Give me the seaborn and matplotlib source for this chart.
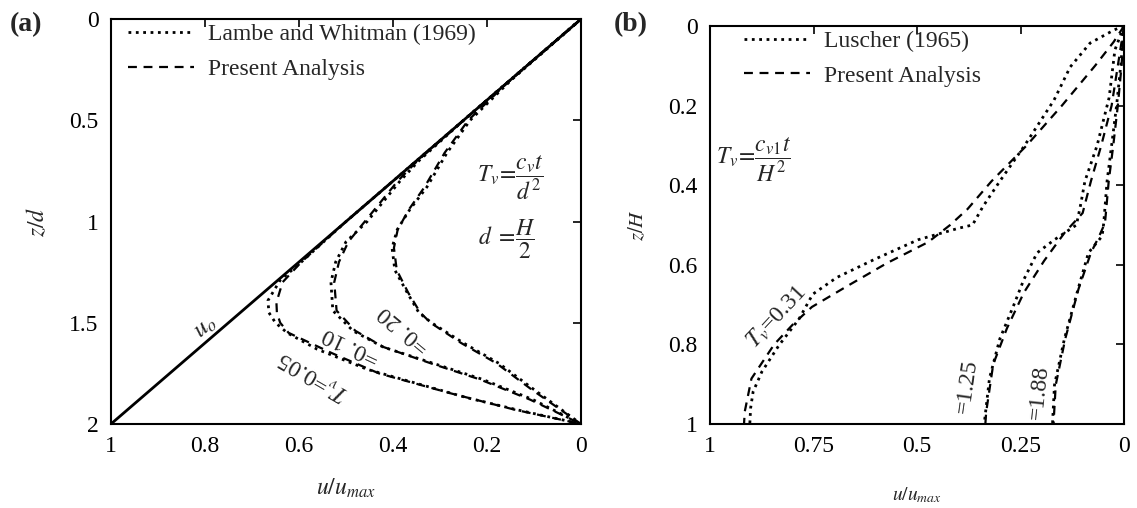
import numpy as np
import pandas as pd
import matplotlib
matplotlib.use("Agg")
import matplotlib.pyplot as plt
import seaborn as sns

# ---------------- data: panel (a) ----------------
u0_z = [0.0, 2.0]
u0_u = [0.0, 1.0]

lw005_z = [0, 0.5, 1.0, 1.2, 1.29, 1.39, 1.45, 1.5, 1.55, 1.63, 1.73, 1.80, 1.87, 1.93, 2.0]
lw005_u = [0, 0.25, 0.5, 0.595, 0.64, 0.666, 0.664, 0.65, 0.625, 0.562, 0.455, 0.349, 0.243, 0.136, 0]
pa005_z = [0, 0.5, 1.0, 1.2, 1.3, 1.4, 1.45, 1.5, 1.55, 1.65, 1.75, 1.85, 1.93, 2.0]
pa005_u = [0, 0.25, 0.5, 0.595, 0.635, 0.648, 0.647, 0.64, 0.622, 0.53, 0.43, 0.275, 0.14, 0]

lw010_z = [0, 0.5, 0.7, 0.8, 0.9, 1.0, 1.1, 1.2, 1.3, 1.44, 1.54, 1.62, 1.70, 1.78, 1.88, 2.0]
lw010_u = [0, 0.25, 0.345, 0.385, 0.42, 0.455, 0.50, 0.522, 0.532, 0.528, 0.485, 0.421, 0.315, 0.209, 0.102, 0]
pa010_z = [0, 0.5, 0.7, 0.8, 0.9, 1.0, 1.1, 1.2, 1.3, 1.44, 1.54, 1.62, 1.70, 1.78, 1.88, 2.0]
pa010_u = [0, 0.25, 0.348, 0.39, 0.425, 0.46, 0.495, 0.515, 0.525, 0.52, 0.48, 0.42, 0.32, 0.215, 0.108, 0]

lw020_z = [0, 0.3, 0.5, 0.66, 0.83, 0.94, 1.04, 1.13, 1.24, 1.35, 1.45, 1.5, 1.6, 1.7, 1.83, 2.0]
lw020_u = [0, 0.148, 0.236, 0.285, 0.328, 0.364, 0.391, 0.402, 0.396, 0.37, 0.345, 0.318, 0.25, 0.175, 0.1, 0]
pa020_z = [0, 0.3, 0.5, 0.66, 0.83, 0.94, 1.04, 1.13, 1.24, 1.35, 1.45, 1.5, 1.6, 1.7, 1.83, 2.0]
pa020_u = [0, 0.15, 0.24, 0.29, 0.333, 0.366, 0.39, 0.398, 0.392, 0.368, 0.342, 0.32, 0.255, 0.18, 0.105, 0]

# ---------------- data: panel (b) ----------------
lu031_z = [0, 0.01, 0.043, 0.103, 0.186, 0.3, 0.39, 0.454, 0.50, 0.508, 0.537, 0.587, 0.632, 0.674,
           0.736, 0.803, 0.869, 0.919, 0.96, 1.0]
lu031_u = [0, 0.024, 0.082, 0.13, 0.169, 0.24, 0.30, 0.341, 0.366, 0.399, 0.497, 0.604, 0.694, 0.752,
           0.785, 0.834, 0.875, 0.896, 0.902, 0.904]
pa031_z = [0, 0.04, 0.1, 0.2, 0.3, 0.39, 0.46, 0.5, 0.543, 0.596, 0.655, 0.706, 0.75, 0.8, 0.886, 0.968, 1.0]
pa031_u = [0, 0.025, 0.07, 0.15, 0.235, 0.32, 0.378, 0.42, 0.473, 0.573, 0.671, 0.754, 0.80, 0.845, 0.90, 0.916, 0.918]

lu125_z = [0, 0.06, 0.18, 0.3, 0.39, 0.45, 0.50, 0.537, 0.57, 0.637, 0.703, 0.786, 0.885, 0.993, 1.0]
lu125_u = [0, 0.022, 0.036, 0.065, 0.0945, 0.105, 0.115, 0.168, 0.21, 0.242, 0.267, 0.30, 0.325, 0.337, 0.337]
pa125_z = [0, 0.1, 0.2, 0.3, 0.39, 0.47, 0.52, 0.59, 0.67, 0.76, 0.85, 0.97, 1.0]
pa125_u = [0, 0.015, 0.03, 0.055, 0.08, 0.10, 0.144, 0.193, 0.242, 0.283, 0.316, 0.333, 0.335]

lu188_z = [0, 0.1, 0.2, 0.3, 0.39, 0.495, 0.528, 0.57, 0.661, 0.786, 0.902, 0.993, 1.0]
lu188_u = [0, 0.008, 0.018, 0.03, 0.041, 0.049, 0.053, 0.086, 0.111, 0.144, 0.168, 0.1725, 0.1725]
pa188_z = [0, 0.1, 0.2, 0.3, 0.39, 0.495, 0.528, 0.57, 0.661, 0.786, 0.902, 0.993, 1.0]
pa188_u = [0, 0.006, 0.015, 0.026, 0.037, 0.046, 0.06, 0.08, 0.11, 0.142, 0.165, 0.17, 0.17]

a_xticks = [1, 0.8, 0.6, 0.4, 0.2, 0]
a_xticklabels = ["1", "0.8", "0.6", "0.4", "0.2", "0"]
a_yticks = [0, 0.5, 1, 1.5, 2]
a_yticklabels = ["0", "0.5", "1", "1.5", "2"]
b_xticks = [1, 0.75, 0.5, 0.25, 0]
b_xticklabels = ["1", "0.75", "0.5", "0.25", "0"]
b_yticks = [0, 0.2, 0.4, 0.6, 0.8, 1]
b_yticklabels = ["0", "0.2", "0.4", "0.6", "0.8", "1"]

# ---------------- style ----------------
sns.set_theme(style="white")
plt.rcParams["font.family"] = ["Liberation Serif", "DejaVu Serif"]
plt.rcParams["mathtext.fontset"] = "stix"

FS = 17
fig = plt.figure(figsize=(11.37, 5.08), dpi=100)
ax1 = fig.add_axes([0.0976, 0.1654, 0.4134, 0.797])
ax2 = fig.add_axes([0.6245, 0.1654, 0.3641, 0.7835])

def draw(ax, z, u, ls, lw, label=None):
    df = pd.DataFrame({"u": u, "z": z})
    sns.lineplot(data=df, x="u", y="z", sort=False, estimator=None, ax=ax,
                 color="black", linestyle=ls, linewidth=lw, label=label, legend=False)

DASH = (0, (4, 3))
# panel (a)
draw(ax1, u0_z, u0_u, "-", 2.0)
draw(ax1, lw005_z, lw005_u, ":", 2.0, "Lambe and Whitman (1969)")
draw(ax1, pa005_z, pa005_u, DASH, 1.6, "Present Analysis")
draw(ax1, lw010_z, lw010_u, ":", 2.0)
draw(ax1, pa010_z, pa010_u, DASH, 1.6)
draw(ax1, lw020_z, lw020_u, ":", 2.0)
draw(ax1, pa020_z, pa020_u, DASH, 1.6)

# panel (b)
draw(ax2, lu031_z, lu031_u, ":", 2.0, "Luscher (1965)")
draw(ax2, pa031_z, pa031_u, DASH, 1.6, "Present Analysis")
draw(ax2, lu125_z, lu125_u, ":", 2.0)
draw(ax2, pa125_z, pa125_u, DASH, 1.6)
draw(ax2, lu188_z, lu188_u, ":", 2.0)
draw(ax2, pa188_z, pa188_u, DASH, 1.6)

for ax, xt, xtl, yt, ytl, ylim, anchor in [
    (ax1, a_xticks, a_xticklabels, a_yticks, a_yticklabels, (2, 0), (0.026, 1.0)),
    (ax2, b_xticks, b_xticklabels, b_yticks, b_yticklabels, (1, 0), (0.071, 1.0)),
]:
    ax.set_xlim(1, 0)
    ax.set_ylim(*ylim)
    ax.set_xticks(xt)
    ax.set_xticklabels(xtl)
    ax.set_yticks(yt)
    ax.set_yticklabels(ytl)
    ax.tick_params(direction="in", length=6, width=1.2, top=True, right=True,
                   labelsize=FS, colors="black", pad=9)
    for s in ax.spines.values():
        s.set_color("black")
        s.set_linewidth(1.5)
    ax.legend(loc="upper left", bbox_to_anchor=anchor, frameon=False, fontsize=FS,
              handlelength=2.8, handletextpad=0.6, labelspacing=0.55,
              borderaxespad=0.0, borderpad=0.2)

ax1.set_xlabel(r"$u/u_{max}$", fontsize=FS, labelpad=14)
ax1.set_ylabel(r"$z/d$", fontsize=FS, labelpad=14)
ax2.set_xlabel(r"$u/u_{max}$", fontsize=14, labelpad=20)
ax2.set_ylabel(r"$z/H$", fontsize=15, labelpad=14)

# annotations panel (a)
ax1.text(0.80, 1.52, r"$u_o$", fontsize=18, rotation=40.7, ha="center", va="center")
ax1.text(0.568, 1.76, r"$T_v$=0.05", fontsize=FS, rotation=150, ha="center", va="center")
ax1.text(0.488, 1.61, r"=0. 10", fontsize=FS, rotation=155, ha="center", va="center")
ax1.text(0.375, 1.53, r"=0. 20", fontsize=FS, rotation=140, ha="center", va="center")
ax1.text(0.151, 0.785, r"$T_v\!=\!\dfrac{c_v t}{d^2}$", fontsize=FS, ha="center", va="center")
ax1.text(0.157, 1.09, r"$d\ =\!\dfrac{H}{2}$", fontsize=FS, ha="center", va="center")

# annotations panel (b)
ax2.text(0.84, 0.73, r"$T_v$=0.31", fontsize=FS, rotation=47, ha="center", va="center")
ax2.text(0.379, 0.905, "=1.25", fontsize=FS, rotation=82, ha="center", va="center")
ax2.text(0.205, 0.92, "=1.88", fontsize=FS, rotation=84, ha="center", va="center")
ax2.text(0.895, 0.337, r"$T_v\!=\!\dfrac{c_{v1} t}{H^2}$", fontsize=FS, ha="center", va="center")

fig.text(0.009, 0.952, "(a)", fontsize=20, fontweight="bold", ha="left", va="center")
fig.text(0.540, 0.952, "(b)", fontsize=20, fontweight="bold", ha="left", va="center")

fig.savefig("out.png", dpi=100)
